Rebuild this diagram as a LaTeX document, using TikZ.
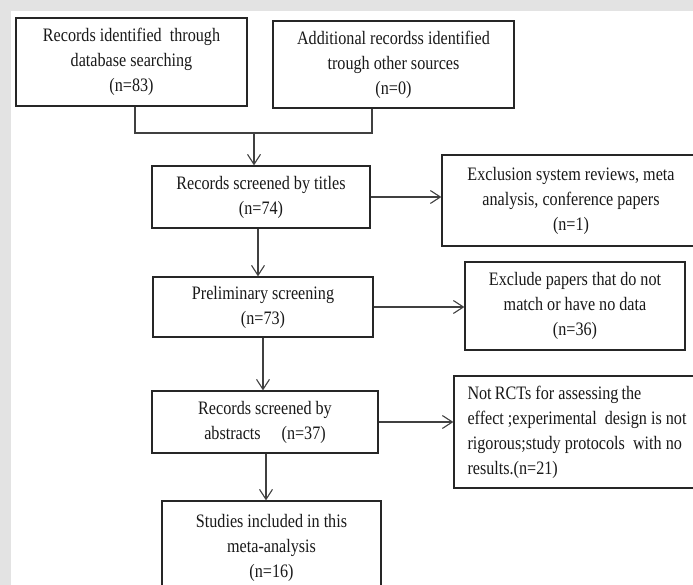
\documentclass[tikz,border=0pt]{standalone}
\usepackage{fontspec}
\setmainfont{Liberation Serif}[FakeStretch=0.85]
\usetikzlibrary{arrows.meta}
\definecolor{bgray}{HTML}{E3E3E3}
\tikzset{
  box/.style={draw=black!85, line width=1.3pt, rectangle, inner sep=0pt, align=center,
    font=\fontsize{19}{25}\selectfont, text=black!90},
  lbox/.style={box, align=left},
  link/.style={draw=black!75, line width=1.1pt},
  arr/.style={link, -{Straight Barb[length=10pt,width=13pt,line width=1.1pt]}}
}
\begin{document}
\begin{tikzpicture}[x=1pt,y=-1pt]
\useasboundingbox (0,0) rectangle (693,585);
\fill[bgray] (0,0) rectangle (693,585);
\fill[white] (11,11) rectangle (693,585);
\clip (0,0) rectangle (693,585);

\node[box, minimum width=231pt, minimum height=88pt] (A) at (131.5,62)
  {Records identified\ \ through\\database searching\\(n=83)};
\node[box, minimum width=241pt, minimum height=87pt] (B) at (393.5,64.5)
  {Additional recordss identified\\trough other sources\\(n=0)};
\node[box, minimum width=218pt, minimum height=62pt] (C) at (261,197)
  {Records screened by titles\\(n=74)};
\node[box, minimum width=258pt, minimum height=91pt] (E) at (571,200.5)
  {Exclusion\ system reviews, meta\\analysis, conference\ papers\\(n=1)};
\node[box, minimum width=220pt, minimum height=60pt] (D) at (263,307)
  {Preliminary screening\\(n=73)};
\node[box, minimum width=220pt, minimum height=88pt] (F) at (575,306)
  {Exclude papers that do not\\match or have no data\\(n=36)};
\node[box, minimum width=226pt, minimum height=62pt] (H) at (265,422)
  {Records screened by\\abstracts\hspace{1.1em}(n=37)};
\node[lbox, minimum width=246pt, minimum height=112pt] (G) at (577,432)
  {Not\,RCTs for assessing\,the\\effect ;experimental\ \ design is not\\rigorous;study protocols\ \ with no\\results.(n=21)};
\node[box, minimum width=219pt, minimum height=94pt] (I) at (271.5,548)
  {Studies included in this\\meta-analysis\\(n=16)};

\coordinate (m) at (254,133);
\draw[link] ([xshift=3.5pt]A.south) |- (m);
\draw[link] ([xshift=-21.5pt]B.south) |- (m);
\draw[arr] (m) -- (m |- C.north);
\draw[arr] ([xshift=-3pt]C.south) -- ([xshift=-3pt]C.south |- D.north);
\draw[arr] (D.south) -- (D.south |- H.north);
\draw[arr] ([xshift=1pt]H.south) -- ([xshift=1pt]H.south |- I.north);
\draw[arr] (C.east) -- (C.east -| E.west);
\draw[arr] (D.east) -- (D.east -| F.west);
\draw[arr] (H.east) -- (H.east -| G.west);
\end{tikzpicture}
\end{document}
